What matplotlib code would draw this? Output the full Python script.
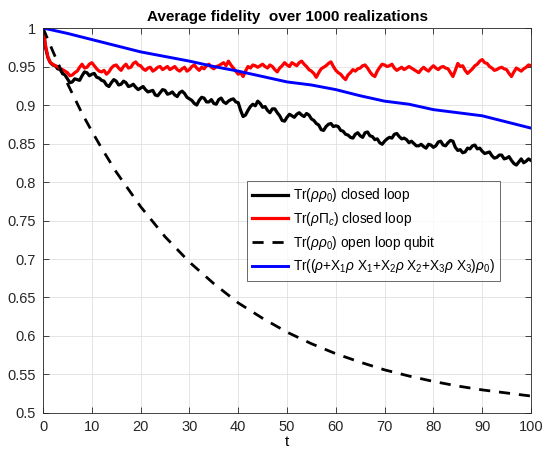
import numpy as np
import matplotlib
matplotlib.use('Agg')
import matplotlib.pyplot as plt

plt.rcParams['font.family'] = ['Liberation Sans', 'DejaVu Sans']
plt.rcParams['mathtext.fontset'] = 'custom'
plt.rcParams['mathtext.rm'] = 'Liberation Sans'
plt.rcParams['mathtext.it'] = 'Liberation Sans:italic'

# time axis: values read at whole t and at the half steps between
t = np.arange(0, 101)
t_mid = np.arange(0, 100) + 0.5

# Tr(rho rho_0), closed loop
closed_fid = [1.0, 0.962, 0.952, 0.947, 0.941, 0.934, 0.930, 0.933, 0.938, 0.942,
              0.940, 0.936, 0.932, 0.926, 0.929, 0.931, 0.927, 0.929, 0.925, 0.923,
              0.922, 0.920, 0.918, 0.913, 0.916, 0.919, 0.915, 0.913, 0.916, 0.915,
              0.908, 0.902, 0.906, 0.909, 0.904, 0.902, 0.907, 0.904, 0.905, 0.908,
              0.903, 0.885, 0.893, 0.901, 0.905, 0.897, 0.893, 0.895, 0.890, 0.880,
              0.884, 0.886, 0.888, 0.887, 0.889, 0.882, 0.876, 0.868, 0.872, 0.876,
              0.873, 0.867, 0.862, 0.858, 0.862, 0.860, 0.864, 0.860, 0.855, 0.851,
              0.853, 0.858, 0.862, 0.859, 0.857, 0.851, 0.850, 0.847, 0.846, 0.849,
              0.845, 0.852, 0.848, 0.851, 0.853, 0.841, 0.838, 0.844, 0.847, 0.843,
              0.840, 0.838, 0.834, 0.832, 0.835, 0.831, 0.828, 0.822, 0.830, 0.827,
              0.828]
closed_fid_mid = [0.975, 0.955, 0.951, 0.946, 0.939, 0.929, 0.934, 0.932, 0.943, 0.938,
                  0.941, 0.935, 0.931, 0.924, 0.933, 0.926, 0.931, 0.924, 0.927, 0.920,
                  0.924, 0.917, 0.919, 0.912, 0.920, 0.914, 0.917, 0.911, 0.918, 0.910,
                  0.906, 0.900, 0.910, 0.904, 0.907, 0.901, 0.909, 0.902, 0.907, 0.904,
                  0.893, 0.887, 0.898, 0.899, 0.902, 0.898, 0.890, 0.895, 0.886, 0.879,
                  0.888, 0.884, 0.890, 0.885, 0.887, 0.880, 0.874, 0.867, 0.875, 0.872,
                  0.872, 0.866, 0.861, 0.857, 0.864, 0.858, 0.865, 0.859, 0.856, 0.849,
                  0.856, 0.857, 0.863, 0.856, 0.855, 0.853, 0.847, 0.849, 0.844, 0.848,
                  0.847, 0.853, 0.847, 0.854, 0.845, 0.842, 0.839, 0.843, 0.848, 0.844,
                  0.837, 0.839, 0.831, 0.835, 0.830, 0.833, 0.824, 0.826, 0.825, 0.830]

# Tr(rho Pi_c), closed loop
code_fid = [1.0, 0.962, 0.953, 0.950, 0.946, 0.942, 0.939, 0.944, 0.953, 0.949,
            0.955, 0.947, 0.943, 0.940, 0.948, 0.952, 0.945, 0.953, 0.949, 0.956,
            0.951, 0.945, 0.949, 0.946, 0.950, 0.948, 0.946, 0.950, 0.944, 0.949,
            0.946, 0.952, 0.945, 0.947, 0.953, 0.947, 0.951, 0.955, 0.957, 0.948,
            0.940, 0.937, 0.950, 0.952, 0.949, 0.953, 0.948, 0.950, 0.943, 0.951,
            0.952, 0.955, 0.951, 0.957, 0.950, 0.944, 0.936, 0.947, 0.951, 0.956,
            0.945, 0.940, 0.933, 0.942, 0.944, 0.948, 0.952, 0.943, 0.937, 0.949,
            0.952, 0.951, 0.948, 0.947, 0.946, 0.950, 0.946, 0.942, 0.949, 0.944,
            0.951, 0.946, 0.950, 0.947, 0.937, 0.954, 0.951, 0.941, 0.947, 0.953,
            0.959, 0.954, 0.948, 0.946, 0.949, 0.946, 0.937, 0.948, 0.944, 0.949,
            0.951]
code_fid_mid = [0.978, 0.955, 0.951, 0.947, 0.944, 0.938, 0.942, 0.949, 0.948, 0.953,
                0.951, 0.944, 0.945, 0.943, 0.951, 0.948, 0.950, 0.948, 0.954, 0.952,
                0.947, 0.948, 0.944, 0.949, 0.946, 0.950, 0.948, 0.946, 0.947, 0.944,
                0.950, 0.948, 0.949, 0.951, 0.949, 0.950, 0.953, 0.951, 0.952, 0.944,
                0.942, 0.944, 0.948, 0.951, 0.951, 0.950, 0.952, 0.946, 0.948, 0.955,
                0.950, 0.953, 0.955, 0.953, 0.946, 0.941, 0.942, 0.949, 0.954, 0.950,
                0.942, 0.936, 0.939, 0.946, 0.947, 0.951, 0.948, 0.939, 0.944, 0.953,
                0.950, 0.953, 0.945, 0.949, 0.948, 0.948, 0.944, 0.946, 0.946, 0.948,
                0.948, 0.949, 0.948, 0.942, 0.945, 0.950, 0.945, 0.944, 0.951, 0.957,
                0.955, 0.950, 0.945, 0.948, 0.947, 0.941, 0.943, 0.946, 0.947, 0.952]

# open loop qubit
t_open = [0, 2, 4, 6, 8, 10, 12, 15, 20, 25, 30, 35, 40, 45, 50, 55, 60, 65, 70,
          75, 80, 85, 90, 95, 100]
open_fid = [1.0, 0.970, 0.941, 0.915, 0.889, 0.866, 0.844, 0.813, 0.768, 0.729,
            0.696, 0.668, 0.643, 0.623, 0.605, 0.590, 0.577, 0.566, 0.556,
            0.548, 0.541, 0.535, 0.530, 0.526, 0.522]

# Tr((rho + sum X rho X) rho_0)
t_blue = [0, 5, 10, 15, 20, 25, 30, 35, 40, 45, 50, 55, 60, 65, 70, 75, 80, 85,
          90, 95, 100]
blue_fid = [1.0, 0.993, 0.985, 0.977, 0.969, 0.963, 0.957, 0.950, 0.944, 0.937,
            0.930, 0.926, 0.920, 0.912, 0.905, 0.901, 0.894, 0.890, 0.886, 0.878,
            0.870]

labels = [r'Tr($\rho\rho_0$) closed loop',
          r'Tr($\rho\Pi_c$) closed loop',
          r'Tr($\rho\rho_0$) open loop qubit',
          r'Tr(($\rho$+X$_1\rho$ X$_1$+X$_2\rho$ X$_2$+X$_3\rho$ X$_3$)$\rho_0$)']


def interleave(whole, mid):
    # put the half-step readings between the whole-step ones
    x = np.empty(len(whole) + len(mid))
    y = np.empty(len(whole) + len(mid))
    x[0::2], x[1::2] = t, t_mid
    y[0::2], y[1::2] = whole, mid
    return x, y


fig = plt.figure(figsize=(5.46, 4.57), dpi=100)
ax = fig.add_axes([0.0788, 0.0963, 0.8937, 0.8424])

x, y = interleave(closed_fid, closed_fid_mid)
ax.plot(x, y, color='k', lw=2.3, label=labels[0])
x, y = interleave(code_fid, code_fid_mid)
ax.plot(x, y, color='#ff0000', lw=2.3, label=labels[1])
ax.plot(t_open, open_fid, color='k', lw=2, linestyle=(0, (4, 3.2)), label=labels[2])
ax.plot(t_blue, blue_fid, color='#0000ff', lw=2.1, label=labels[3])

ax.set_xlim(0, 100)
ax.set_ylim(0.5, 1)
ax.set_xticks(np.arange(0, 101, 10))
yt = np.arange(0.5, 1.001, 0.05)
ax.set_yticks(yt)
ax.set_yticklabels(['%g' % round(v, 2) for v in yt])
ax.tick_params(direction='in', top=True, right=True, length=4, labelsize=10.5,
               colors='#262626', width=0.6, pad=5)
for s in ax.spines.values():
    s.set_color('#262626')
    s.set_linewidth(0.6)
ax.grid(True, color='#e0e0e0', lw=0.6)
ax.set_axisbelow(True)

ax.set_title('Average fidelity  over 1000 realizations', fontsize=11,
             fontweight='bold', pad=5)
ax.set_xlabel('t', fontsize=11, labelpad=1)

leg = ax.legend(loc='upper left', bbox_to_anchor=(0.418, 0.603), fontsize=9.8,
                frameon=True, fancybox=False, edgecolor='#262626',
                handlelength=2.6, handletextpad=0.4, borderpad=0.4,
                labelspacing=0.42, borderaxespad=0)
leg.get_frame().set_linewidth(0.6)

fig.savefig('out.png', dpi=100, facecolor='white')
